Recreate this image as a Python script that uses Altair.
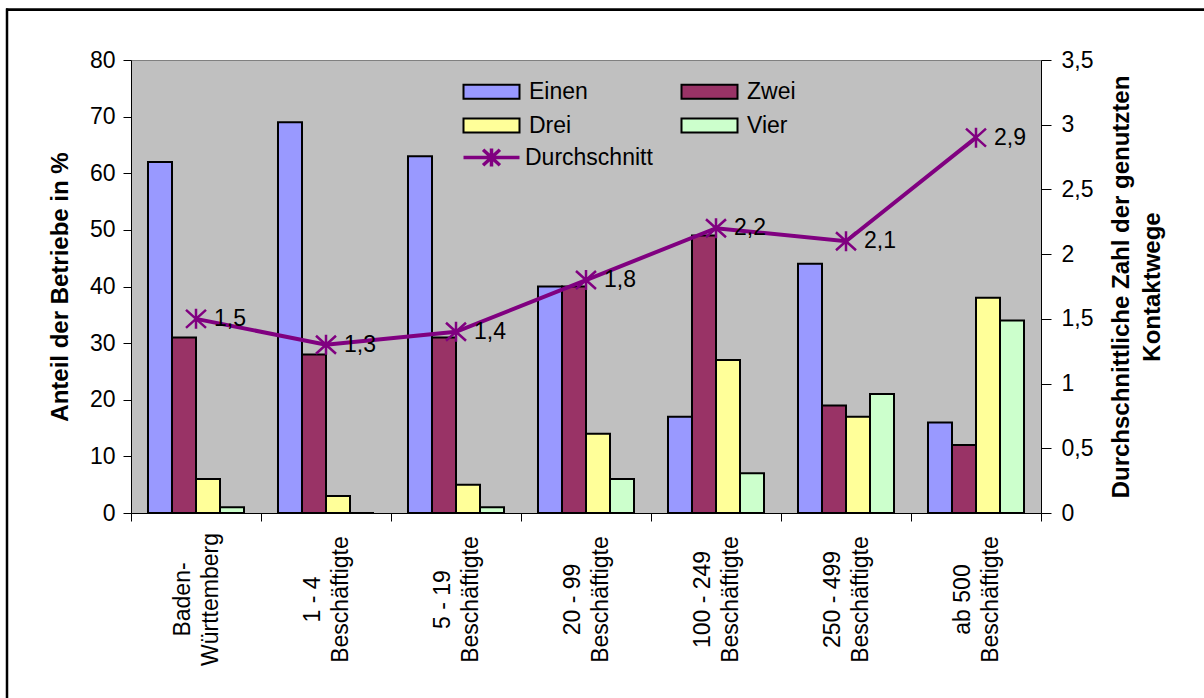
import altair as alt
import pandas as pd

# Betriebsgrößenklassen (Zeilenumbruch über "|")
categories = [
    "Baden-|Württemberg",
    "1 - 4|Beschäftigte",
    "5 - 19|Beschäftigte",
    "20 - 99|Beschäftigte",
    "100 - 249|Beschäftigte",
    "250 - 499|Beschäftigte",
    "ab 500|Beschäftigte",
]
series = ["Einen", "Zwei", "Drei", "Vier"]
einen = [62, 69, 63, 40, 17, 44, 16]
zwei = [31, 28, 31, 40, 49, 19, 12]
drei = [6, 3, 5, 14, 27, 17, 38]
vier = [1, 0, 1, 6, 7, 21, 34]
durchschnitt = [1.5, 1.3, 1.4, 1.8, 2.2, 2.1, 2.9]

left_ticks = [0, 10, 20, 30, 40, 50, 60, 70, 80]
right_ticks = [0, 0.5, 1, 1.5, 2, 2.5, 3, 3.5]

bar_colors = ["#9999FF", "#993366", "#FFFF99", "#CCFFCC"]
line_color = "#800080"
FONT = "Liberation Sans"

rows = []
for name, vals in zip(series, [einen, zwei, drei, vier]):
    for cat, v in zip(categories, vals):
        rows.append({"kategorie": cat, "anzahl": name, "anteil": v})
bars_df = pd.DataFrame(rows)
avg_df = pd.DataFrame(
    {"kategorie": categories, "avg": durchschnitt, "reihe": ["Durchschnitt"] * len(categories)}
)

RECT = "M-4,-1H4V1H-4Z"
STAR = "M-1,-0.9L1,0.9M-1,0.9L1,-0.9M0,-1V1"
LINE_STAR = "M-4,0H4M-1.2,-1.1L1.2,1.1M-1.2,1.1L1.2,-1.1M0,-1.3V1.3"

common_legend = dict(
    title=None,
    orient="none",
    padding=0,
    symbolSize=196,
    labelFontSize=23,
    labelFont=FONT,
    labelColor="black",
    labelLimit=400,
)

x_enc = alt.X(
    "kategorie:N",
    sort=categories,
    scale=alt.Scale(paddingInner=0, paddingOuter=0),
    axis=alt.Axis(
        title=None,
        labelAngle=270,
        labelAlign="center",
        labelBaseline="middle",
        labelPadding=78,
        labelOffset=-14,
        labelLineHeight=28,
        labelExpr="split(datum.label, '|')",
        labelOverlap=False,
        labelFontSize=23,
        tickBand="extent",
        tickSize=8,
    ),
)

bars = (
    alt.Chart(bars_df)
    .mark_bar(stroke="black", strokeWidth=2)
    .encode(
        x=x_enc,
        xOffset=alt.XOffset(
            "anzahl:N", sort=series, scale=alt.Scale(paddingInner=0, paddingOuter=0.708)
        ),
        y=alt.Y(
            "anteil:Q",
            scale=alt.Scale(domain=[0, 80], nice=False),
            axis=alt.Axis(
                title="Anteil der Betriebe in %",
                values=left_ticks,
                tickSize=8,
                labelPadding=8,
                titlePadding=17,
            ),
        ),
        color=alt.Color(
            "anzahl:N",
            scale=alt.Scale(domain=series, range=bar_colors),
            legend=alt.Legend(
                legendX=349,
                legendY=20,
                columns=2,
                direction="horizontal",
                rowPadding=10,
                columnPadding=89,
                labelOffset=26,
                symbolType=RECT,
                symbolStrokeColor="black",
                symbolStrokeWidth=2,
                symbolOpacity=1,
                **common_legend,
            ),
        ),
    )
)

y_right = alt.Y(
    "avg:Q",
    scale=alt.Scale(domain=[0, 3.5], nice=False),
    axis=alt.Axis(
        orient="right",
        title=["Durchschnittliche Zahl der genutzten", "Kontaktwege"],
        titleAngle=270,
        titleLineHeight=31,
        titlePadding=10,
        values=right_ticks,
        labelExpr="replace(format(datum.value, '~g'), '.', ',')",
        tickSize=10,
        labelPadding=10,
    ),
)

avg_stroke = alt.Stroke(
    "reihe:N",
    scale=alt.Scale(domain=["Durchschnitt"], range=[line_color]),
    legend=alt.Legend(
        legendX=349,
        legendY=86,
        labelOffset=22,
        symbolType=LINE_STAR,
        symbolStrokeWidth=3.5,
        symbolFillColor="transparent",
        symbolOpacity=1,
        **common_legend,
    ),
)

base_avg = alt.Chart(avg_df).encode(x=alt.X("kategorie:N", sort=categories), y=y_right)

line = base_avg.mark_line(strokeWidth=4).encode(stroke=avg_stroke)
points = base_avg.mark_point(
    shape=STAR,
    size=400,
    filled=False,
    color=line_color,
    strokeWidth=2.5,
    opacity=1,
)
labels = (
    base_avg.transform_calculate(txt="replace(format(datum.avg, '.1f'), '.', ',')")
    .mark_text(align="left", baseline="middle", dx=18, fontSize=23, font=FONT, color="black")
    .encode(text="txt:N")
)

avg_layer = alt.layer(line, points, labels)

# Rahmenlinien oben und links
frame_df = pd.DataFrame({"k": [0]})
frame_top = alt.Chart(frame_df).mark_rule(color="black", strokeWidth=2.7).encode(
    x=alt.value(-125), x2=alt.value(1073), y=alt.value(-50.3)
)
frame_left = alt.Chart(frame_df).mark_rule(color="black", strokeWidth=2.5).encode(
    x=alt.value(-124), y=alt.value(-51.5), y2=alt.value(638)
)

chart = (
    alt.layer(bars, avg_layer, frame_top, frame_left)
    .resolve_scale(y="independent")
    .properties(
        width=910,
        height=453,
        autosize=alt.AutoSizeParams(type="none"),
        padding={"left": 131, "top": 60, "right": 163, "bottom": 185},
        background="white",
    )
    .configure_view(fill="#C0C0C0", stroke="#808080", strokeWidth=1)
    .configure_axis(
        grid=False,
        labelFont=FONT,
        labelFontSize=23,
        labelColor="black",
        titleFont=FONT,
        titleFontSize=24,
        titleFontWeight="bold",
        titleColor="black",
        domainColor="black",
        domainWidth=1,
        tickColor="black",
        tickWidth=1,
    )
)

chart.save("out.html", embed_options={"renderer": "svg", "actions": False})
